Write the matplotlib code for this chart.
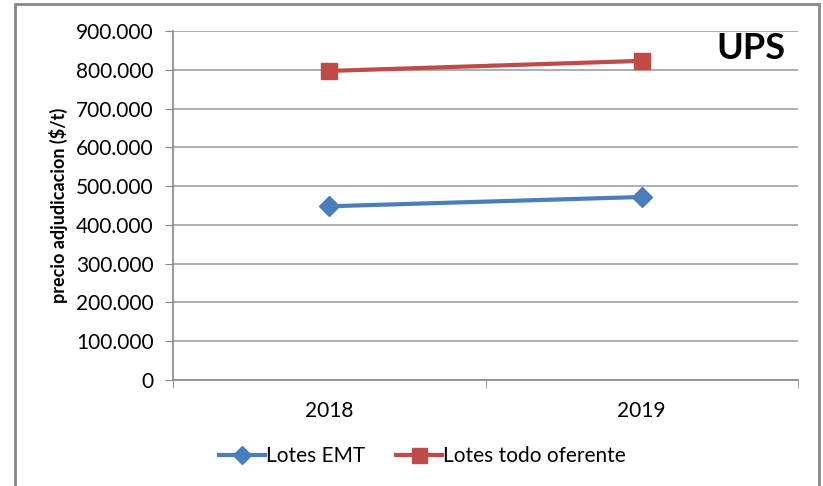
import numpy as np
import matplotlib.pyplot as plt
from matplotlib.ticker import FuncFormatter, FixedLocator
from matplotlib.patches import Rectangle

years = ['2018', '2019']
emt = [448000, 472000]
todo_oferente = [797000, 823000]
yticks = np.arange(0, 900001, 100000)

plt.rcParams['font.family'] = ['Lato', 'DejaVu Sans']

fig = plt.figure(figsize=(8.23, 4.86), dpi=100)
ax = fig.add_axes([173/823, 1 - 380/486, (798 - 173)/823, (380 - 31)/486])

x = np.arange(len(years))
ax.plot(x, emt, color='#4A7EBB', lw=3, marker='D', markersize=10, label='Lotes EMT', zorder=3)
ax.plot(x, todo_oferente, color='#BE4B48', lw=3, marker='s', markersize=12, label='Lotes todo oferente', zorder=3)

ax.set_xlim(-0.5, 1.5)
ax.set_ylim(0, 900000)
ax.set_yticks(yticks)
ax.yaxis.set_major_formatter(FuncFormatter(lambda v, p: f'{int(v):,}'.replace(',', '.')))
ax.grid(axis='y', color='#A0A0A0', lw=1.2)
ax.set_axisbelow(True)

ax.set_xticks(x)
ax.set_xticklabels(years)
ax.xaxis.set_minor_locator(FixedLocator([-0.5, 0.5, 1.5]))
ax.tick_params(axis='x', which='major', length=0, pad=15, labelsize=15)
ax.tick_params(axis='x', which='minor', length=6, color='#888888', direction='out')
ax.tick_params(axis='y', length=6, color='#888888', labelsize=15, pad=8)

for s in ['top', 'right']:
    ax.spines[s].set_visible(False)
for s in ['left', 'bottom']:
    ax.spines[s].set_color('#888888')
    ax.spines[s].set_linewidth(1.2)

ax.set_ylabel('precio adjudicacion ($/t)', fontsize=13, fontweight='bold', labelpad=6)

ax.text(0.869, 0.997, 'UPS', transform=ax.transAxes, fontsize=26, fontweight='bold',
        ha='left', va='top')

fig.legend(loc='center', bbox_to_anchor=(0.513, 1 - 456/486), ncol=2, frameon=False,
           fontsize=15, handlelength=2.2, handletextpad=0.05, columnspacing=1.5,
           markerscale=0.9)

fig.patches.append(Rectangle((15/823, -0.05), (819 - 15)/823, 1.05 - 4/486,
                             transform=fig.transFigure, fill=False,
                             edgecolor='#888888', lw=2))

fig.savefig('out.png', dpi=100)
